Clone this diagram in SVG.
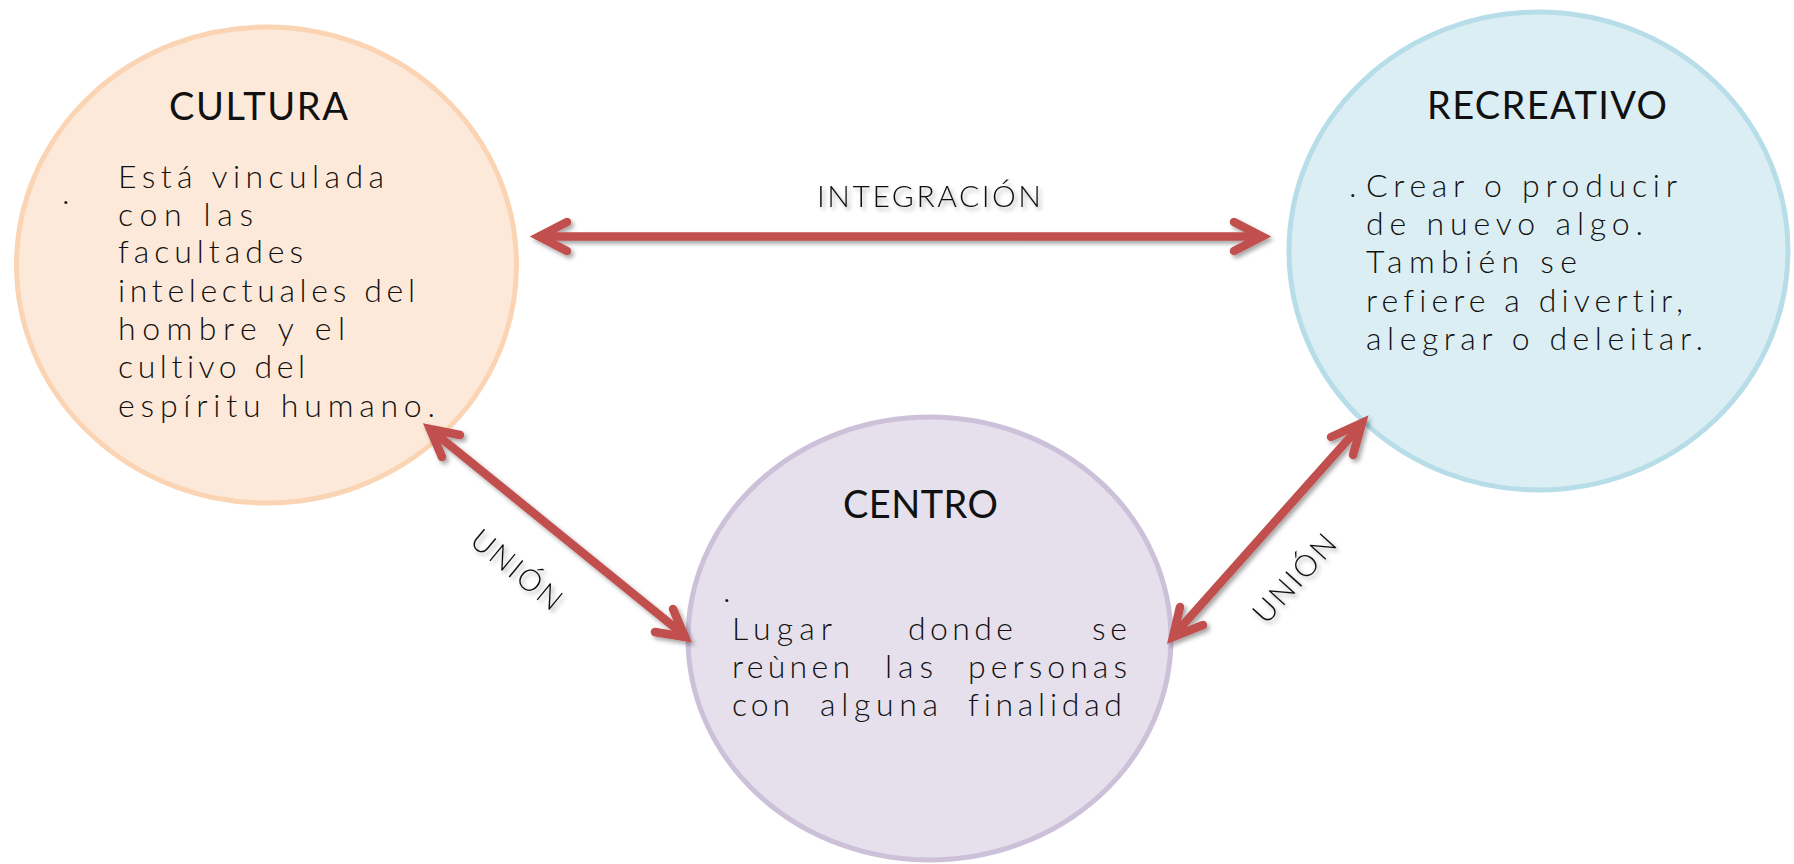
<svg xmlns="http://www.w3.org/2000/svg" width="1794" height="864" viewBox="0 0 1794 864">
<defs>
<filter id="sh" x="-20%" y="-20%" width="140%" height="140%">
<feDropShadow dx="2.5" dy="3" stdDeviation="2" flood-color="#000" flood-opacity="0.35"/>
</filter>
<style>
.t{font-family:Lato,"Liberation Sans",sans-serif;fill:#111;font-variant-ligatures:none;font-feature-settings:"liga" 0,"clig" 0;}
.title{font-size:38px;}
.body{font-size:32px;font-weight:300;}
.lbl{font-family:Lato,"Liberation Sans",sans-serif;font-size:30px;font-weight:300;fill:#111;font-variant-ligatures:none;}
.arr{fill:none;stroke:#C0504D;stroke-width:8.5;stroke-linecap:round;stroke-linejoin:miter;}
</style>
</defs>
<rect width="1794" height="864" fill="#fff"/>

<g id="cultura">
<ellipse cx="266.5" cy="265" rx="250" ry="238" fill="#FDE9D9" stroke="#FBD4B4" stroke-width="5"/>
<text class="t title" x="169" y="120" textLength="179" lengthAdjust="spacing">CULTURA</text>
<text class="t body" x="62" y="204">.</text>
<text class="t body" x="118" y="188" textLength="266" lengthAdjust="spacing">Está vinculada</text>
<text class="t body" x="118" y="226" textLength="135" lengthAdjust="spacing">con las</text>
<text class="t body" x="118" y="263" textLength="185" lengthAdjust="spacing">facultades</text>
<text class="t body" x="118" y="302" textLength="297" lengthAdjust="spacing">intelectuales del</text>
<text class="t body" x="118" y="340" textLength="227" lengthAdjust="spacing">hombre y el</text>
<text class="t body" x="118" y="378" textLength="187" lengthAdjust="spacing">cultivo del</text>
<text class="t body" x="118" y="417" textLength="317" lengthAdjust="spacing">espíritu humano.</text>
</g>

<g id="recreativo">
<ellipse cx="1538.5" cy="251" rx="249.5" ry="239" fill="#DBEEF3" stroke="#B6DDE8" stroke-width="5"/>
<text class="t title" x="1427" y="119" textLength="240" lengthAdjust="spacing">RECREATIVO</text>
<text class="t body" x="1349" y="197">.</text>
<text class="t body" x="1366" y="197" textLength="311" lengthAdjust="spacing">Crear o producir</text>
<text class="t body" x="1366" y="235" textLength="277" lengthAdjust="spacing">de nuevo algo.</text>
<text class="t body" x="1366" y="273" textLength="211" lengthAdjust="spacing">También se</text>
<text class="t body" x="1366" y="312" textLength="317" lengthAdjust="spacing">refiere a divertir,</text>
<text class="t body" x="1366" y="350" textLength="337" lengthAdjust="spacing">alegrar o deleitar.</text>
</g>

<g id="centro">
<ellipse cx="929.5" cy="638.5" rx="241.5" ry="221.5" fill="#E5E0EC" stroke="#CCC1D9" stroke-width="5"/>
<text class="t title" x="843" y="518" textLength="155" lengthAdjust="spacing">CENTRO</text>
<text class="t body" x="723" y="602">.</text>
<text class="t body" x="732" y="640" textLength="100" lengthAdjust="spacing">Lugar</text>
<text class="t body" x="908" y="640" textLength="105" lengthAdjust="spacing">donde</text>
<text class="t body" x="1092" y="640" textLength="35" lengthAdjust="spacing">se</text>
<text class="t body" x="732" y="678" textLength="118" lengthAdjust="spacing">reùnen</text>
<text class="t body" x="885" y="678" textLength="48" lengthAdjust="spacing">las</text>
<text class="t body" x="968" y="678" textLength="159" lengthAdjust="spacing">personas</text>
<text class="t body" x="732" y="716" textLength="58" lengthAdjust="spacing">con</text>
<text class="t body" x="820" y="716" textLength="118" lengthAdjust="spacing">alguna</text>
<text class="t body" x="968" y="716" textLength="154" lengthAdjust="spacing">finalidad</text>
</g>

<g id="connectors" filter="url(#sh)">
<g id="integracion">
<line class="arr" x1="540" y1="236.5" x2="1261" y2="236.5"/>
<polyline class="arr" points="567,222 539,236.5 567,251"/>
<polyline class="arr" points="1234,222 1262,236.5 1234,251"/>
<text class="lbl" x="817" y="207" textLength="224" lengthAdjust="spacing">INTEGRACIÓN</text>
</g>
<g id="union-left">
<line class="arr" x1="431" y1="430" x2="684" y2="635"/>
<polyline class="arr" points="460,435 430,429 442,457"/>
<polyline class="arr" points="655,632 685,637 673,609"/>
<text class="lbl" transform="translate(517,569) rotate(39.5)" x="0" y="11" text-anchor="middle" textLength="108" lengthAdjust="spacing">UNIÓN</text>
</g>
<g id="union-right">
<line class="arr" x1="1361" y1="425" x2="1174" y2="635"/>
<polyline class="arr" points="1331,437 1362,423 1353,455"/>
<polyline class="arr" points="1180,607 1173,637 1203,625"/>
<text class="lbl" transform="translate(1294,578) rotate(-48)" x="0" y="11" text-anchor="middle" textLength="108" lengthAdjust="spacing">UNIÓN</text>
</g>
</g>
</svg>
